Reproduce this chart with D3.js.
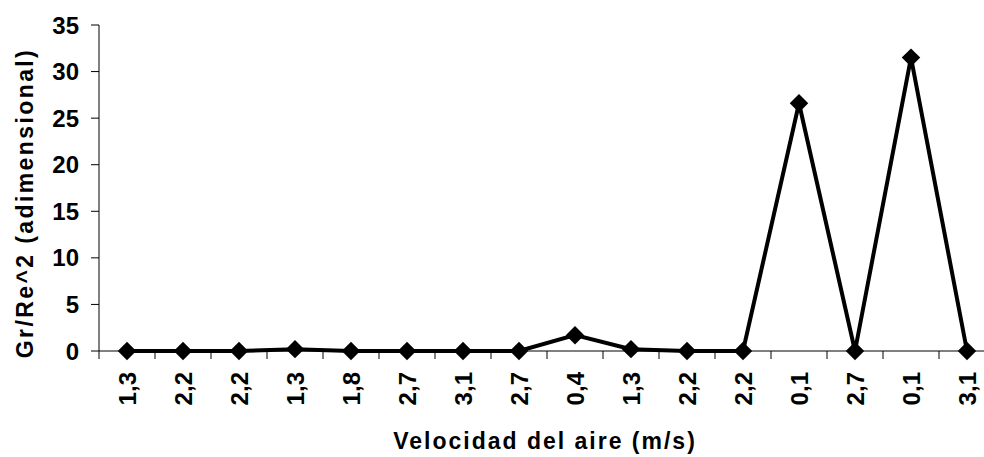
<!DOCTYPE html>
<html>
<head>
<meta charset="utf-8">
<script src="https://cdn.jsdelivr.net/npm/d3@7"></script>
<style>
  body { margin: 0; background: #fff; }
  svg { display: block; font-family: "Liberation Sans", Arial, sans-serif; font-weight: bold; }
</style>
</head>
<body>
<svg id="chart" width="984" height="457"></svg>
<script>
// velocidad del aire (categorias) y Gr/Re^2
var categories = ["1,3", "2,2", "2,2", "1,3", "1,8", "2,7", "3,1", "2,7",
                  "0,4", "1,3", "2,2", "2,2", "0,1", "2,7", "0,1", "3,1"];
var values = [0, 0, 0, 0.2, 0, 0, 0, 0, 1.7, 0.2, 0, 0, 26.6, 0, 31.5, 0];
var yTicks = [0, 5, 10, 15, 20, 25, 30, 35];

function drawChart() {
    var svg = d3.select("#chart");
    var mLeft = 99, mRight = 995, mTop = 25, mBottom = 351;

    var x = d3.scaleBand().domain(d3.range(categories.length)).range([mLeft, mRight]);
    var y = d3.scaleLinear().domain([0, 35]).range([mBottom, mTop]);

    // y axis
    svg.append("line")
        .attr("x1", mLeft).attr("x2", mLeft)
        .attr("y1", mTop).attr("y2", mBottom)
        .attr("stroke", "#000").attr("stroke-width", 1);

    svg.selectAll(".ytick").data(yTicks).enter().append("line")
        .attr("x1", mLeft - 8).attr("x2", mLeft)
        .attr("y1", function(d) { return y(d); })
        .attr("y2", function(d) { return y(d); })
        .attr("stroke", "#000");

    svg.selectAll(".ylab").data(yTicks).enter().append("text")
        .attr("x", mLeft - 20)
        .attr("y", function(d) { return y(d); })
        .attr("dy", "0.36em")
        .attr("text-anchor", "end")
        .style("font-size", "24px")
        .text(function(d) { return d; });

    // x axis
    svg.append("line")
        .attr("x1", mLeft).attr("x2", mRight)
        .attr("y1", mBottom).attr("y2", mBottom)
        .attr("stroke", "#000");

    svg.selectAll(".xtick").data(d3.range(categories.length + 1)).enter().append("line")
        .attr("x1", function(d) { return mLeft + d * x.bandwidth(); })
        .attr("x2", function(d) { return mLeft + d * x.bandwidth(); })
        .attr("y1", mBottom).attr("y2", mBottom + 8)
        .attr("stroke", "#000");

    svg.selectAll(".xlab").data(categories).enter().append("text")
        .attr("transform", function(d, i) {
            return "translate(" + (x(i) + x.bandwidth() / 2) + "," + (mBottom + 21) + ") rotate(-90)";
        })
        .attr("dy", "0.36em")
        .attr("text-anchor", "end")
        .style("font-size", "24px")
        .text(function(d) { return d; });

    // the line
    var line = d3.line()
        .x(function(d, i) { return x(i) + x.bandwidth() / 2; })
        .y(function(d) { return y(d); });

    svg.append("path")
        .datum(values)
        .attr("d", line)
        .attr("fill", "none")
        .attr("stroke", "#000")
        .attr("stroke-width", 4)
        .attr("stroke-linejoin", "miter");

    svg.selectAll(".pt").data(values).enter().append("path")
        .attr("d", d3.symbol().type(d3.symbolSquare).size(170))
        .attr("transform", function(d, i) {
            return "translate(" + (x(i) + x.bandwidth() / 2) + "," + y(d) + ") rotate(45)";
        })
        .attr("fill", "#000");

    // axis titles
    svg.append("text")
        .attr("transform", "translate(25,203) rotate(-90)")
        .attr("dy", "0.36em")
        .attr("text-anchor", "middle")
        .style("font-size", "23px")
        .style("letter-spacing", "2.4px")
        .text("Gr/Re^2 (adimensional)");

    svg.append("text")
        .attr("x", 545).attr("y", 441)
        .attr("dy", "0.36em")
        .attr("text-anchor", "middle")
        .style("font-size", "23px")
        .style("letter-spacing", "2px")
        .text("Velocidad del aire (m/s)");
}

drawChart()
</script>
</body>
</html>
